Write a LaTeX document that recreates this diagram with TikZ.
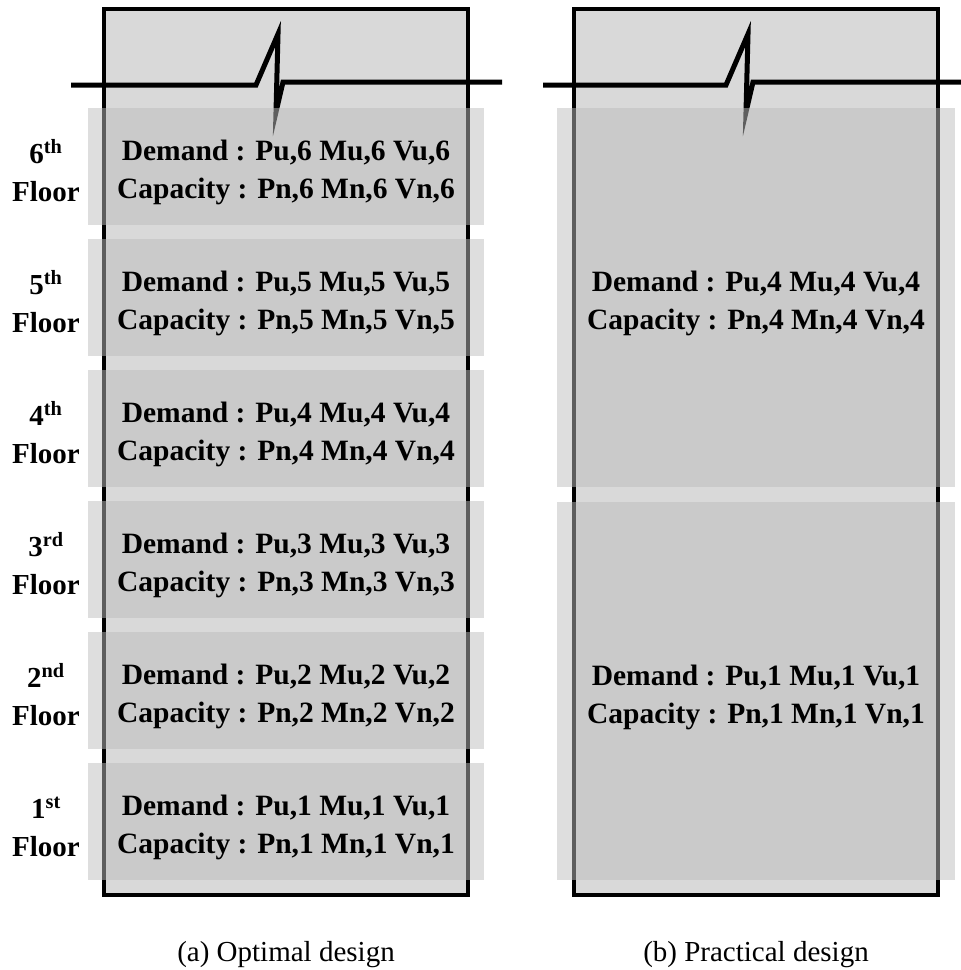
\documentclass[tikz,border=0pt]{standalone}
\usepackage{fontspec}
\setmainfont{Liberation Serif}
\definecolor{colfill}{RGB}{217,217,217}
\definecolor{bandfill}{RGB}{189,189,189}
\begin{document}
\begin{tikzpicture}[x=1pt,y=-1pt,
  colbox/.style={draw=black,line width=3.5pt,fill=colfill},
  breakline/.style={draw=black,line width=5pt,line join=miter,miter limit=12},
  floorband/.style={fill=bandfill,fill opacity=0.5,draw=none},
  loadtext/.style={anchor=base,inner sep=0pt,font=\fontsize{29.5}{36}\selectfont\bfseries},
  floorlabel/.style={anchor=base,inner sep=0pt,font=\fontsize{29}{36}\selectfont\bfseries},
  captiontext/.style={anchor=base,inner sep=0pt,font=\fontsize{29}{36}\selectfont}
]
\useasboundingbox (0,0) rectangle (961,970);

% column outlines
\draw[colbox] (104,9) rectangle (468,895);
\draw[colbox] (574,9) rectangle (938,895);

% break symbols at the top of each column
\draw[breakline] (71,85) -- (256,85) -- (278,34) -- (276,112) -- (283,82) -- (502,82);
\draw[breakline] (543,85) -- (726,85) -- (748,34) -- (746,112) -- (753,82) -- (965,82);

% (a) one band per storey
\foreach \k/\sfx in {1/st,2/nd,3/rd,4/th,5/th,6/th}{
  \pgfmathsetmacro{\top}{108+(6-\k)*131}
  \fill[floorband] (88,\top) rectangle (484,\top+117);
  \node[loadtext]   (dem\k)  at (286,\top+52) {Demand : Pu,\k\ Mu,\k\ Vu,\k};
  \node[loadtext]   (cap\k)  at (286,\top+90) {Capacity : Pn,\k\ Mn,\k\ Vn,\k};
  \node[floorlabel] (num\k)  at (46,\top+55) {\k\textsuperscript{\sfx}};
  \node[floorlabel] (flr\k)  at (46,\top+93) {Floor};
}

% (b) grouped storeys
\fill[floorband] (557,108) rectangle (955,487);
\fill[floorband] (557,502) rectangle (955,880);
\node[loadtext] (demB4) at (756,291) {Demand : Pu,4 Mu,4 Vu,4};
\node[loadtext] (capB4) at (756,329) {Capacity : Pn,4 Mn,4 Vn,4};
\node[loadtext] (demB1) at (756,685) {Demand : Pu,1 Mu,1 Vu,1};
\node[loadtext] (capB1) at (756,723) {Capacity : Pn,1 Mn,1 Vn,1};

% captions
\node[captiontext] (capa) at (286,961) {(a) Optimal design};
\node[captiontext] (capb) at (756,961) {(b) Practical design};
\end{tikzpicture}
\end{document}
